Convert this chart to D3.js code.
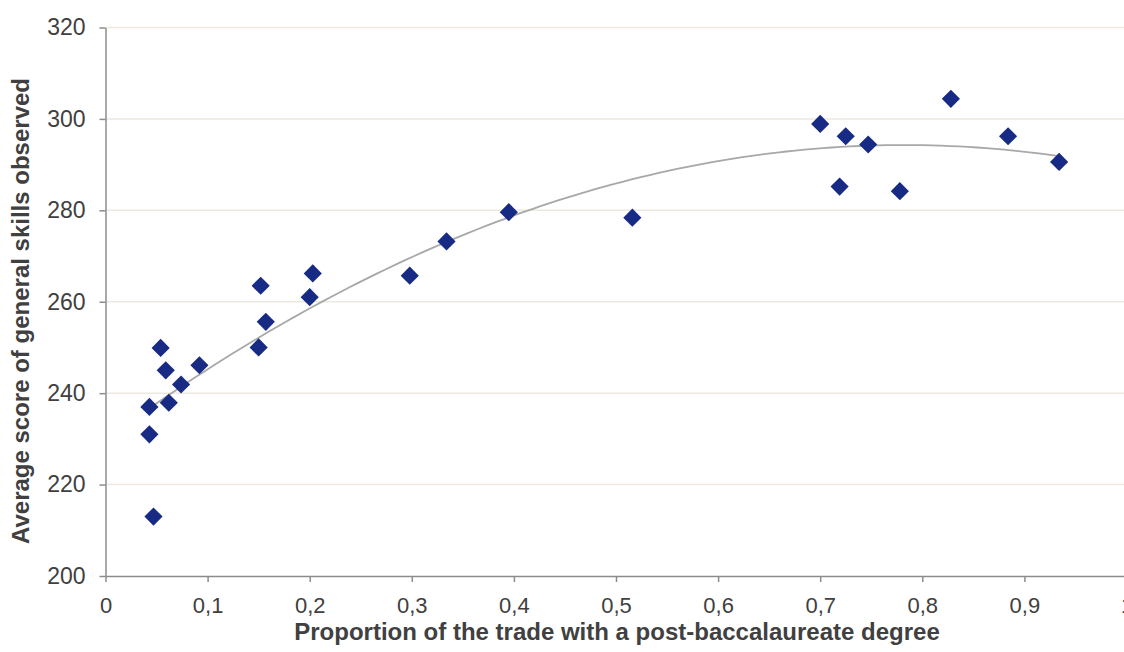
<!DOCTYPE html>
<html><head><meta charset="utf-8">
<script src="https://cdn.jsdelivr.net/npm/d3@7"></script>
<style>
html,body{margin:0;padding:0;background:#fff;overflow:hidden}
svg{display:block}
text{font-family:"Liberation Sans",Arial,sans-serif}
</style></head>
<body>
<svg id="chart" width="1124" height="652"></svg>
<script>
// Proportion of the trade with a post-baccalaureate degree
const proportion = [0.043,0.043,0.047,0.054,0.059,0.062,0.074,0.092,0.150,0.152,0.157,0.200,0.203,
  0.298,0.334,0.395,0.516,0.700,0.719,0.725,0.747,0.778,0.828,0.884,0.934];
// Average score of general skills observed
const score = [237.0,231.0,213.0,249.9,245.0,237.9,241.9,246.1,250.0,263.5,255.6,261.0,266.2,
  265.7,273.2,279.6,278.4,298.9,285.2,296.2,294.4,284.2,304.4,296.2,290.6];
const xTicks = [0,0.1,0.2,0.3,0.4,0.5,0.6,0.7,0.8,0.9,1];
const yTicks = [200,220,240,260,280,300,320];

const svg = d3.select("#chart");
const x = d3.scaleLinear().domain([0,1]).range([105.5,1126.5]);
const y = d3.scaleLinear().domain([200,320]).range([576,27.5]);
const fmt = d => d===0||d===1 ? String(d) : d3.format(".1f")(d).replace(".",",");

// grid
svg.append("g").selectAll("line").data(yTicks.filter(t=>t>200)).join("line")
  .attr("x1",x(0)).attr("x2",1124).attr("y1",d=>y(d)).attr("y2",d=>y(d))
  .attr("stroke","#ede9df").attr("stroke-width",1.5);

// axes
const xAxis = svg.append("g").attr("transform",`translate(0,${y(200)})`)
  .call(d3.axisBottom(x).tickValues(xTicks).tickFormat(fmt).tickSizeInner(6).tickSizeOuter(0).tickPadding(15));
const yAxis = svg.append("g").attr("transform",`translate(${x(0)},0)`)
  .call(d3.axisLeft(y).tickValues(yTicks).tickSizeInner(6).tickSizeOuter(0).tickPadding(14));
[xAxis,yAxis].forEach(g=>{
  g.select(".domain").attr("stroke","#8c8c8c").attr("stroke-width",1.5);
  g.selectAll(".tick line").attr("stroke","#8c8c8c").attr("stroke-width",1.5);
  g.selectAll("text").attr("fill","#404040").style("font-family","'Liberation Sans',Arial,sans-serif");
});
xAxis.selectAll("text").style("font-size","22px");
yAxis.selectAll("text").style("font-size","23px");

// quadratic trend (least squares, as a spreadsheet trendline)
function polyfit2(xs,ys){
  let S=[0,0,0,0,0], T=[0,0,0];
  xs.forEach((xv,i)=>{ for(let k=0;k<5;k++) S[k]+=Math.pow(xv,k); for(let k=0;k<3;k++) T[k]+=ys[i]*Math.pow(xv,k); });
  const A=[[S[0],S[1],S[2],T[0]],[S[1],S[2],S[3],T[1]],[S[2],S[3],S[4],T[2]]];
  for(let i=0;i<3;i++){ for(let j=i+1;j<3;j++){ const f=A[j][i]/A[i][i]; for(let k=i;k<4;k++) A[j][k]-=f*A[i][k]; } }
  const c=[0,0,0];
  for(let i=2;i>=0;i--){ let s=A[i][3]; for(let k=i+1;k<3;k++) s-=A[i][k]*c[k]; c[i]=s/A[i][i]; }
  return c;
}
const c = polyfit2(proportion,score);
const xmin = d3.min(proportion), xmax = d3.max(proportion);
const trend = d3.range(0,101).map(i=>{ const xv = xmin+(xmax-xmin)*i/100; return [xv, c[0]+c[1]*xv+c[2]*xv*xv]; });
svg.append("path").datum(trend)
  .attr("d", d3.line().x(d=>x(d[0])).y(d=>y(d[1])))
  .attr("fill","none").attr("stroke","#a8a8a8").attr("stroke-width",1.8);

// points
const sym = d3.symbol().type(d3.symbolSquare).size(165);
svg.append("g").selectAll("path").data(proportion.map((p,i)=>[p,score[i]])).join("path")
  .attr("d", sym)
  .attr("transform", d=>`translate(${x(d[0])},${y(d[1])}) rotate(45)`)
  .attr("fill","#172a84");

// titles
svg.append("text").attr("x",617).attr("y",640).attr("text-anchor","middle")
  .attr("fill","#404040").style("font-size","24px").style("font-weight","bold")
  .text("Proportion of the trade with a post-baccalaureate degree");
svg.append("text").attr("transform","translate(29,311) rotate(-90)").attr("text-anchor","middle")
  .attr("fill","#404040").style("font-size","24px").style("font-weight","bold")
  .text("Average score of general skills observed");
</script>
</body></html>
